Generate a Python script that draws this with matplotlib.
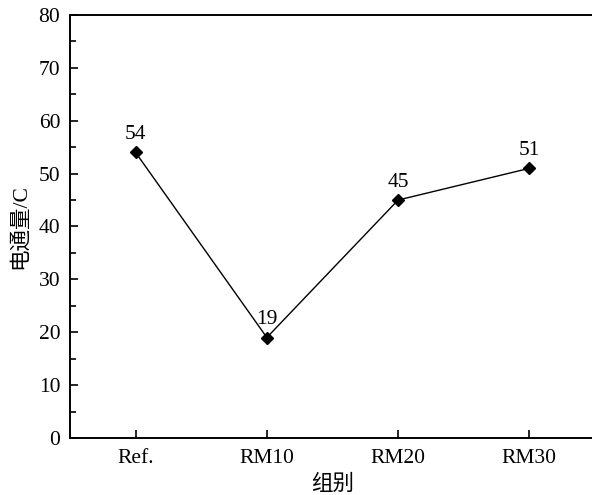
import matplotlib
matplotlib.use('Agg')
from matplotlib import pyplot as plt
from matplotlib.ticker import MultipleLocator

groups = ['Ref.', 'RM10', 'RM20', 'RM30']
charge = [54, 19, 45, 51]

plt.rcParams['font.family'] = ['Liberation Serif', 'Noto Sans CJK SC']
plt.rcParams['font.size'] = 15.5

fig = plt.figure(figsize=(5.92, 4.95), dpi=100)
ax = fig.add_axes([0.1182, 0.1152, 0.8868, 0.8545])

x = list(range(len(groups)))
ax.plot(x, charge, color='black', lw=1.0, marker='D', ms=6.5, mfc='black', mec='black')
for xi, v in zip(x, charge):
    ax.annotate(str(v), (xi, v), xytext=(0, 6), textcoords='offset points',
                ha='center', va='bottom', fontsize=15.5)

ax.set_xlim(-0.5, 3.5)
ax.set_ylim(0, 80)
ax.set_xticks(x)
ax.set_xticklabels(groups)
ax.yaxis.set_major_locator(MultipleLocator(10))
ax.yaxis.set_minor_locator(MultipleLocator(5))
ax.tick_params(direction='in', width=1.2, length=6, pad=7)
ax.tick_params(which='minor', direction='in', width=1.2, length=4)
ax.tick_params(axis='x', pad=8)
for s in ax.spines.values():
    s.set_linewidth(1.4)

ax.set_ylabel('电通量/C', fontsize=15.5, labelpad=6)
ax.set_xlabel('组别', fontsize=15.5, labelpad=5)

fig.savefig('out.png', dpi=100)
